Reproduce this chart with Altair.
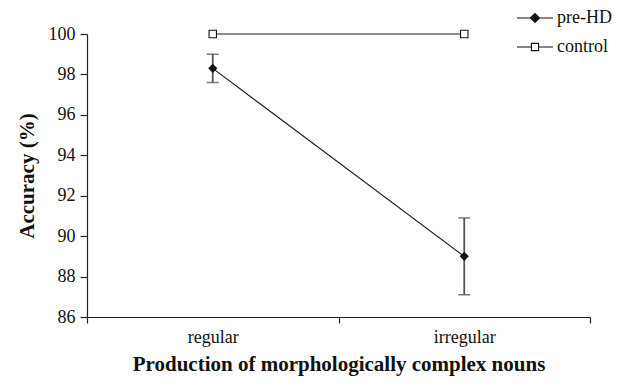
import altair as alt
import pandas as pd

categories = ["regular", "irregular"]
series_names = ["pre-HD", "control"]
prehd_mean = [98.3, 89.0]
prehd_err = [0.7, 1.9]
control_mean = [100.0, 100.0]
control_err = [0.0, 0.0]
y_ticks = [86, 88, 90, 92, 94, 96, 98, 100]

rows = []
for i, c in enumerate(categories):
    rows.append({"condition": c, "group": "pre-HD", "acc": prehd_mean[i],
                 "lo": prehd_mean[i] - prehd_err[i], "hi": prehd_mean[i] + prehd_err[i]})
for i, c in enumerate(categories):
    rows.append({"condition": c, "group": "control", "acc": control_mean[i],
                 "lo": control_mean[i] - control_err[i], "hi": control_mean[i] + control_err[i]})
df = pd.DataFrame(rows)

FONT = "Times New Roman, Liberation Serif, DejaVu Serif, serif"

x_enc = alt.X(
    "condition:N",
    sort=categories,
    bandPosition=0.5,
    scale=alt.Scale(type="band", paddingInner=0, paddingOuter=0),
    axis=alt.Axis(
        title="Production of morphologically complex nouns",
        labelAngle=0, tickBand="extent", tickSize=6, tickColor="#222",
        domainColor="#222", labelPadding=5, titlePadding=7, labelFontSize=18,
    ),
)
y_scale = alt.Scale(domain=[86, 100], nice=False, zero=False)
y_enc = alt.Y(
    "acc:Q", scale=y_scale,
    axis=alt.Axis(title="Accuracy (%)", values=y_ticks, tickSize=7, tickColor="#222",
                  domainColor="#222", grid=False, labelPadding=5, titlePadding=11,
                  labelFontSize=18),
)

base = alt.Chart(df)

lines = base.mark_line(color="#1a1a1a", strokeWidth=1.2).encode(
    x=x_enc, y=y_enc, detail="group:N"
)

pre = base.transform_filter(alt.datum.group == "pre-HD")
ctl = base.transform_filter(alt.datum.group == "control")

xb = alt.X("condition:N", sort=categories, bandPosition=0.5)

err = pre.mark_rule(color="#555555", strokeWidth=1.8).encode(
    x=xb, y=alt.Y("lo:Q", scale=y_scale), y2="hi:Q",
)
cap_lo = pre.mark_tick(color="#444444", thickness=1.5, size=12, orient="horizontal").encode(
    x=xb, y=alt.Y("lo:Q", scale=y_scale),
)
cap_hi = pre.mark_tick(color="#444444", thickness=1.5, size=12, orient="horizontal").encode(
    x=xb, y=alt.Y("hi:Q", scale=y_scale),
)

pts_pre = pre.mark_point(shape="diamond", filled=True, color="#111111", size=85, opacity=1).encode(
    x=xb, y=alt.Y("acc:Q", scale=y_scale)
)
pts_ctl = ctl.mark_point(shape="square", filled=True, fill="white", stroke="#111111",
                         strokeWidth=1.1, size=55, opacity=1).encode(
    x=xb, y=alt.Y("acc:Q", scale=y_scale)
)

legend_paths = [
    "M-3,0H3M-0.75,0L0,-0.75L0.75,0L0,0.75Z",
    "M-3,0H-0.6M0.6,0H3M-0.6,-0.6H0.6V0.6H-0.6Z",
]
leg = alt.Legend(
    title=None, orient="none", legendX=439, legendY=-25,
    labelFont=FONT, labelFontSize=18, labelColor="#111",
    symbolSize=144, symbolStrokeWidth=1.1,
    labelOffset=13, rowPadding=11, offset=0,
)
legend_layer = base.transform_filter("false").mark_point(
    size=144, strokeWidth=1.1, opacity=1, filled=False
).encode(
    x=xb,
    y=alt.Y("acc:Q", scale=y_scale),
    shape=alt.Shape("group:N", scale=alt.Scale(domain=series_names, range=legend_paths), legend=leg),
    fill=alt.Fill("group:N", scale=alt.Scale(domain=series_names, range=["#111111", "white"]), legend=leg),
    stroke=alt.Stroke("group:N", scale=alt.Scale(domain=series_names, range=["#111111", "#111111"]), legend=leg),
)

chart = alt.layer(lines, err, cap_lo, cap_hi, pts_ctl, pts_pre, legend_layer).properties(
    width=503, height=283,
    autosize=alt.AutoSizeParams(type="none"),
    padding={"left": 79, "top": 26, "right": 27, "bottom": 61},
    background="white",
).configure_view(stroke=None).configure_axis(
    labelFont=FONT, labelColor="#111",
    titleFont=FONT, titleFontSize=21, titleFontWeight="bold", titleColor="#111",
    domainWidth=1.2, tickWidth=1.2,
).configure_legend(labelFont=FONT)

chart.save("out.html", embed_options={"renderer": "svg", "actions": False})
